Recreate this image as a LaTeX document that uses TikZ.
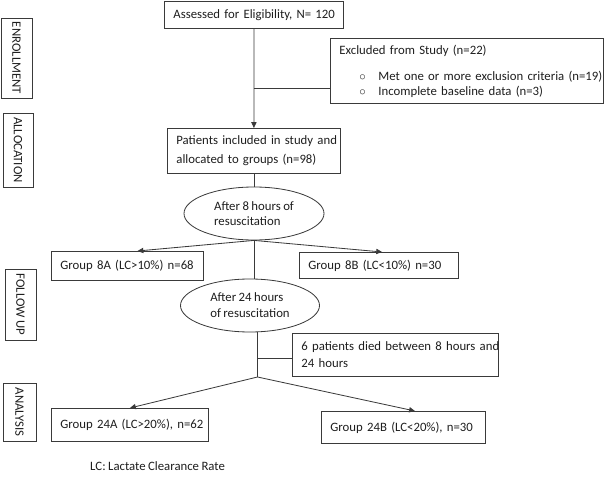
\documentclass[tikz,border=0pt]{standalone}
\usepackage{fontspec}
\setmainfont{Carlito}[WordSpace=0.85]
\usepackage{tikz}
\usetikzlibrary{arrows.meta,calc,shapes.geometric,positioning}
\definecolor{flowline}{HTML}{3A3A3A}
\definecolor{flowtext}{HTML}{1E1E1E}
\tikzset{
  flowbox/.style={draw=flowline,line width=0.7pt,anchor=north west,align=left,inner xsep=0.27cm,inner ysep=0pt,text=flowtext},
  stagebox/.style={draw=flowline,line width=0.7pt,rotate=-90,inner sep=0pt,text=flowtext},
  timeoval/.style={draw=flowline,line width=0.7pt,ellipse,inner sep=0pt,align=left,text=flowtext},
  flowarrow/.style={draw=flowline,line width=0.7pt,-{Triangle[length=5pt,width=4.5pt]}},
  flowlink/.style={draw=flowline,line width=0.7pt}
}
\newcommand{\exbullet}{\hspace*{0.6cm}\makebox[0.57cm][l]{$\circ$}}
\begin{document}
\begin{tikzpicture}[x=0.03cm,y=-0.03cm,font=\fontsize{10.9}{12.5}\selectfont]
  \useasboundingbox (0,0) rectangle (605,478);
  \node[stagebox,minimum width=2.4cm,minimum height=0.93cm] (enrol) at (16.5,58) {ENROLLMENT};
  \node[stagebox,minimum width=2.22cm,minimum height=0.9cm] (alloc) at (18,150) {ALLOCATION};
  \node[stagebox,minimum width=2.13cm,minimum height=0.93cm] (follow) at (20.5,304.5) {FOLLOW UP};
  \node[stagebox,minimum width=1.74cm,minimum height=0.99cm] (analysis) at (19.5,412) {ANALYSIS};
  \node[flowbox,text width=4.83cm,minimum height=0.82cm] (assess) at (164,0.7) {\mbox{Assessed for Eligibility, N= 120}};
  \node[flowbox,text width=7.65cm,minimum height=1.95cm,font=\fontsize{10.9}{12}\selectfont] (excl) at (330,38)
    {\mbox{Excluded from Study (n=22)}\\[11pt]\mbox{\exbullet Met one or more exclusion criteria (n=19)}\\\mbox{\exbullet Incomplete baseline data (n=3)}};
  \node[flowbox,text width=4.65cm,minimum height=1.35cm,font=\fontsize{10.9}{16.2}\selectfont] (patients) at (167,128)
    {\mbox{Patients included in study and}\\\mbox{allocated to groups (n=98)}};
  \node[timeoval,minimum width=4.2cm,minimum height=1.59cm,font=\fontsize{10.9}{12.8}\selectfont] (e8) at (254,213.5)
    {After 8 hours of\\resuscitation};
  \node[flowbox,text width=4.02cm,minimum height=0.87cm] (g8a) at (51,251) {\mbox{Group 8A (LC>10\%) n=68}};
  \node[flowbox,text width=4.23cm,minimum height=0.78cm] (g8b) at (299,252) {\mbox{Group 8B (LC<10\%) n=30}};
  \node[timeoval,minimum width=4.17cm,minimum height=1.59cm,font=\fontsize{10.9}{13.6}\selectfont] (e24) at (250,305.5)
    {After 24 hours\\of resuscitation};
  \node[flowbox,text width=5.64cm,minimum height=1.29cm,font=\fontsize{10.9}{14.5}\selectfont] (died) at (292,333)
    {\mbox{6 patients died between 8 hours and}\\\mbox{24 hours}};
  \node[flowbox,text width=4.17cm,minimum height=0.99cm] (g24a) at (51,408) {\mbox{Group 24A (LC>20\%), n=62}};
  \node[flowbox,text width=4.38cm,minimum height=0.96cm] (g24b) at (321,411) {\mbox{Group 24B (LC<20\%), n=30}};
  \node[anchor=west,inner sep=0pt,text=flowtext] (note) at (90,466) {LC: Lactate Clearance Rate};
  \coordinate (split8) at (253.5,88);
  \coordinate (split24) at (257.5,377);
  \coordinate (join24) at (257.5,358);
  \draw[flowarrow] (assess.south) -- (patients.north);
  \draw[flowlink] (split8) -- (split8 -| excl.west);
  \draw[flowlink] (patients.south) -- (patients.south |- e8.north);
  \draw[flowarrow] (e8.south) -- ($(g8a.north west)!0.566!(g8a.north east)$);
  \draw[flowarrow] (e8.south) -- ($(g8b.north west)!0.52!(g8b.north east)$);
  \draw[flowlink] (e8.south) -- (e8.south |- e24.north);
  \draw[flowlink] (split24 |- e24.south) -- (split24);
  \draw[flowlink] (join24) -- (join24 -| died.west);
  \draw[flowarrow] (split24) -- (g24a.north);
  \draw[flowarrow] (split24) -- ($(g24b.north west)!0.57!(g24b.north east)$);
\end{tikzpicture}
\end{document}
